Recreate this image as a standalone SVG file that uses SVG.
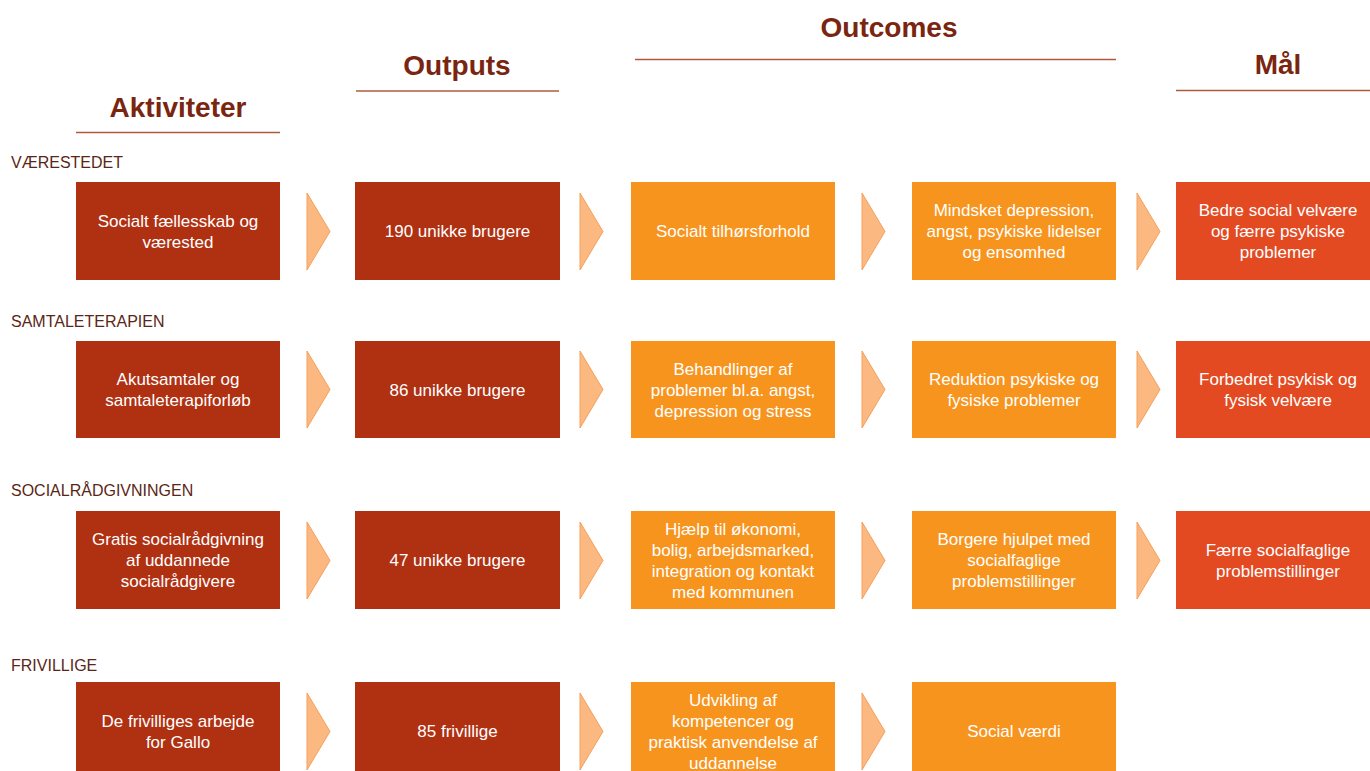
<svg xmlns="http://www.w3.org/2000/svg" xmlns:xlink="http://www.w3.org/1999/xlink" width="1370" height="771" viewBox="0 0 1370 771">
<style>
.hd{font-family:"Liberation Sans",Arial,sans-serif;font-weight:bold;font-size:28px;fill:#7a2510;text-anchor:middle}
.hl{stroke:#b05a3c;stroke-width:1.5;fill:none}
.lbl{font-family:"Liberation Sans",Arial,sans-serif;font-size:16px;fill:#5a2616}
.t{font-family:"Liberation Sans",Arial,sans-serif;font-size:17px;fill:#ffffff;text-anchor:middle}
.dk{fill:#b03012}
.or{fill:#f7941e}
.rd{fill:#e34a22}
.ar{fill:#fbb880;stroke:#f5a05a;stroke-width:1}
</style>
<defs>
<polygon id="tri" points="0,0 23,38.5 0,77"/>
</defs>
<rect width="1370" height="771" fill="#ffffff"/>

<g id="headers">
<text class="hd" x="178" y="117">Aktiviteter</text>
<line class="hl" x1="76" y1="132.5" x2="280" y2="132.5"/>
<text class="hd" x="457" y="75">Outputs</text>
<line class="hl" x1="356" y1="91" x2="559" y2="91"/>
<text class="hd" x="889" y="37">Outcomes</text>
<line class="hl" x1="635" y1="59.5" x2="1116" y2="59.5"/>
<text class="hd" x="1278" y="74">Mål</text>
<line class="hl" x1="1176" y1="90.5" x2="1370" y2="90.5"/>
</g>

<g id="row-labels">
<text class="lbl" x="11" y="168">VÆRESTEDET</text>
<text class="lbl" x="11" y="327">SAMTALETERAPIEN</text>
<text class="lbl" x="11" y="496">SOCIALRÅDGIVNINGEN</text>
<text class="lbl" x="11" y="671">FRIVILLIGE</text>
</g>

<g id="connectors">
<use xlink:href="#tri" class="ar" x="307" y="193"/>
<use xlink:href="#tri" class="ar" x="580" y="193"/>
<use xlink:href="#tri" class="ar" x="862" y="193"/>
<use xlink:href="#tri" class="ar" x="1137" y="193"/>
<use xlink:href="#tri" class="ar" x="307" y="351"/>
<use xlink:href="#tri" class="ar" x="580" y="351"/>
<use xlink:href="#tri" class="ar" x="862" y="351"/>
<use xlink:href="#tri" class="ar" x="1137" y="351"/>
<use xlink:href="#tri" class="ar" x="307" y="522"/>
<use xlink:href="#tri" class="ar" x="580" y="522"/>
<use xlink:href="#tri" class="ar" x="862" y="522"/>
<use xlink:href="#tri" class="ar" x="1137" y="522"/>
<use xlink:href="#tri" class="ar" x="307" y="693"/>
<use xlink:href="#tri" class="ar" x="580" y="693"/>
<use xlink:href="#tri" class="ar" x="862" y="693"/>
</g>

<g id="n-r1c1"><rect class="dk" x="76" y="182" width="204" height="98"/><text class="t" x="178" y="226.5">Socialt fællesskab og</text><text class="t" x="178" y="247.5">værested</text></g>
<g id="n-r1c2"><rect class="dk" x="355" y="182" width="205" height="98"/><text class="t" x="457.5" y="237">190 unikke brugere</text></g>
<g id="n-r1c3"><rect class="or" x="631" y="182" width="204" height="98"/><text class="t" x="733" y="237">Socialt tilhørsforhold</text></g>
<g id="n-r1c4"><rect class="or" x="912" y="182" width="204" height="98"/><text class="t" x="1014" y="216">Mindsket depression,</text><text class="t" x="1014" y="237">angst, psykiske lidelser</text><text class="t" x="1014" y="258">og ensomhed</text></g>
<g id="n-r1c5"><rect class="rd" x="1176" y="182" width="204" height="98"/><text class="t" x="1278" y="216">Bedre social velvære</text><text class="t" x="1278" y="237">og færre psykiske</text><text class="t" x="1278" y="258">problemer</text></g>

<g id="n-r2c1"><rect class="dk" x="76" y="341" width="204" height="97"/><text class="t" x="178" y="385">Akutsamtaler og</text><text class="t" x="178" y="406">samtaleterapiforløb</text></g>
<g id="n-r2c2"><rect class="dk" x="355" y="341" width="205" height="97"/><text class="t" x="457.5" y="395.5">86 unikke brugere</text></g>
<g id="n-r2c3"><rect class="or" x="631" y="341" width="204" height="97"/><text class="t" x="733" y="374.5">Behandlinger af</text><text class="t" x="733" y="395.5">problemer bl.a. angst,</text><text class="t" x="733" y="416.5">depression og stress</text></g>
<g id="n-r2c4"><rect class="or" x="912" y="341" width="204" height="97"/><text class="t" x="1014" y="385">Reduktion psykiske og</text><text class="t" x="1014" y="406">fysiske problemer</text></g>
<g id="n-r2c5"><rect class="rd" x="1176" y="341" width="204" height="97"/><text class="t" x="1278" y="385">Forbedret psykisk og</text><text class="t" x="1278" y="406">fysisk velvære</text></g>

<g id="n-r3c1"><rect class="dk" x="76" y="511" width="204" height="98"/><text class="t" x="178" y="545">Gratis socialrådgivning</text><text class="t" x="178" y="566">af uddannede</text><text class="t" x="178" y="587">socialrådgivere</text></g>
<g id="n-r3c2"><rect class="dk" x="355" y="511" width="205" height="98"/><text class="t" x="457.5" y="566">47 unikke brugere</text></g>
<g id="n-r3c3"><rect class="or" x="631" y="511" width="204" height="98"/><text class="t" x="733" y="534.5">Hjælp til økonomi,</text><text class="t" x="733" y="555.5">bolig, arbejdsmarked,</text><text class="t" x="733" y="576.5">integration og kontakt</text><text class="t" x="733" y="597.5">med kommunen</text></g>
<g id="n-r3c4"><rect class="or" x="912" y="511" width="204" height="98"/><text class="t" x="1014" y="545">Borgere hjulpet med</text><text class="t" x="1014" y="566">socialfaglige</text><text class="t" x="1014" y="587">problemstillinger</text></g>
<g id="n-r3c5"><rect class="rd" x="1176" y="511" width="204" height="98"/><text class="t" x="1278" y="555.5">Færre socialfaglige</text><text class="t" x="1278" y="576.5">problemstillinger</text></g>

<g id="n-r4c1"><rect class="dk" x="76" y="682" width="204" height="98"/><text class="t" x="178" y="726.5">De frivilliges arbejde</text><text class="t" x="178" y="747.5">for Gallo</text></g>
<g id="n-r4c2"><rect class="dk" x="355" y="682" width="205" height="98"/><text class="t" x="457.5" y="737">85 frivillige</text></g>
<g id="n-r4c3"><rect class="or" x="631" y="682" width="204" height="98"/><text class="t" x="733" y="705.5">Udvikling af</text><text class="t" x="733" y="726.5">kompetencer og</text><text class="t" x="733" y="747.5">praktisk anvendelse af</text><text class="t" x="733" y="768.5">uddannelse</text></g>
<g id="n-r4c4"><rect class="or" x="912" y="682" width="204" height="98"/><text class="t" x="1014" y="737">Social værdi</text></g>
</svg>
